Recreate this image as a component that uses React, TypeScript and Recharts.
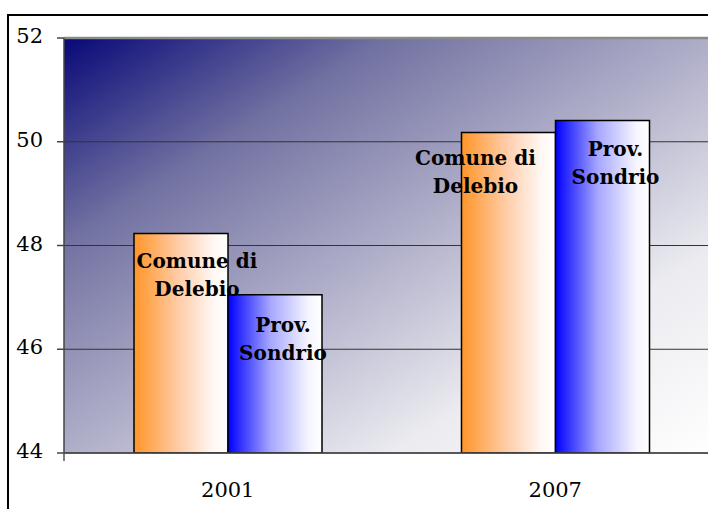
import React from 'react';
import { BarChart, Bar, XAxis, YAxis, CartesianGrid, ReferenceLine, LabelList } from 'recharts';

const years = ['2001', '2007'];
const comuneValues = [48.23, 50.18];
const provValues = [47.05, 50.41];
const yTicks = [44, 46, 48, 50, 52];
const seriesNames = ['Comune di Delebio', 'Prov. Sondrio'];

const data = years.map((y, i) => ({ year: y, comune: comuneValues[i], prov: provValues[i] }));

// manual label nudges (dx from bar centre, dy from bar top), as in the original chart
const comuneLabelNudge = [{ dx: 16, dy: 34 }, { dx: -33, dy: 33 }];
const provLabelNudge = [{ dx: 8, dy: 37 }, { dx: 13, dy: 36 }];

const FONT = '"DejaVu Serif", serif';

function splitName(name: string): string[] {
  const k = name.lastIndexOf(' ');
  return [name.slice(0, k), name.slice(k + 1)];
}

function makeLabel(name: string, nudges: { dx: number; dy: number }[]) {
  const lines = splitName(name);
  return (props: any) => {
    const { x, y, width, index } = props;
    const n = nudges[index] || { dx: 0, dy: 30 };
    const cx = Number(x) + Number(width) / 2 + n.dx;
    const by = Number(y) + n.dy;
    return (
      <text
        x={cx}
        y={by}
        textAnchor="middle"
        fontFamily={FONT}
        fontWeight="bold"
        fontSize={20}
        fill="#000"
      >
        {lines.map((l, i) => (
          <tspan key={i} x={cx} dy={i === 0 ? 0 : 28}>
            {l}
          </tspan>
        ))}
      </text>
    );
  };
}

const YTick = (props: any) => {
  const { x, y, payload } = props;
  return (
    <text x={x} y={Number(y) + 5} textAnchor="end" fontFamily={FONT} fontSize={21} fill="#000">
      {payload.value}
    </text>
  );
};

export default function App() {
  return (
    <div
      style={{
        position: 'absolute',
        left: 7,
        top: 14,
        width: 701,
        height: 495,
        borderLeft: '2px solid #000',
        borderTop: '2px solid #000',
        boxSizing: 'border-box',
        overflow: 'hidden',
        background: '#fff',
      }}
    >
      <BarChart
        width={740}
        height={520}
        data={data}
        margin={{ top: 22, right: 30, left: 0, bottom: 0 }}
        barGap={0}
        barSize={94}
      >
        <defs>
          <linearGradient id="bgGrad" x1="0" y1="0" x2="1" y2="1">
            <stop offset="0" stopColor="#080878" />
            <stop offset="0.25" stopColor="#7272a2" />
            <stop offset="0.48" stopColor="#abaac6" />
            <stop offset="0.75" stopColor="#ebebf0" />
            <stop offset="1" stopColor="#ffffff" />
          </linearGradient>
          <linearGradient id="orangeGrad" x1="0" y1="0" x2="1" y2="0">
            <stop offset="0" stopColor="#ff9528" />
            <stop offset="0.5" stopColor="#ffcfae" />
            <stop offset="0.85" stopColor="#fff8f4" />
            <stop offset="1" stopColor="#ffffff" />
          </linearGradient>
          <linearGradient id="blueGrad" x1="0" y1="0" x2="1" y2="0">
            <stop offset="0" stopColor="#0000ff" />
            <stop offset="0.45" stopColor="#a6a6ff" />
            <stop offset="0.85" stopColor="#f4f4ff" />
            <stop offset="1" stopColor="#ffffff" />
          </linearGradient>
        </defs>
        <CartesianGrid
          vertical={false}
          stroke="#333"
          strokeWidth={1}
          fill="url(#bgGrad)"
          fillOpacity={1}
        />
        <XAxis
          xAxisId={0}
          type="number"
          domain={[0, 2]}
          ticks={[0, 1, 2]}
          allowDataOverflow
          height={10}
          tickSize={8}
          tick={() => <g />}
          axisLine={{ stroke: '#444', strokeWidth: 1.5 }}
          tickLine={{ stroke: '#555', strokeWidth: 1.5 }}
        />
        <XAxis
          xAxisId="cat"
          dataKey="year"
          height={73}
          axisLine={false}
          tickLine={false}
          tickSize={0}
          tickMargin={19}
          tick={{ fontFamily: FONT, fontSize: 21, fill: '#000' }}
        />
        <YAxis
          domain={[44, 52]}
          ticks={yTicks}
          allowDataOverflow
          width={55}
          tickSize={7}
          tickMargin={14}
          tick={<YTick />}
          axisLine={{ stroke: '#444', strokeWidth: 1.5 }}
          tickLine={{ stroke: '#444', strokeWidth: 1.5 }}
        />
        <ReferenceLine y={52} stroke="#8a8a8a" strokeWidth={2.5} />
        <Bar
          xAxisId="cat"
          dataKey="comune"
          name={seriesNames[0]}
          fill="url(#orangeGrad)"
          stroke="#000"
          strokeWidth={1.5}
          isAnimationActive={false}
        >
          <LabelList dataKey="comune" content={makeLabel(seriesNames[0], comuneLabelNudge)} />
        </Bar>
        <Bar
          xAxisId="cat"
          dataKey="prov"
          name={seriesNames[1]}
          fill="url(#blueGrad)"
          stroke="#000"
          strokeWidth={1.5}
          isAnimationActive={false}
        >
          <LabelList dataKey="prov" content={makeLabel(seriesNames[1], provLabelNudge)} />
        </Bar>
      </BarChart>
    </div>
  );
}
